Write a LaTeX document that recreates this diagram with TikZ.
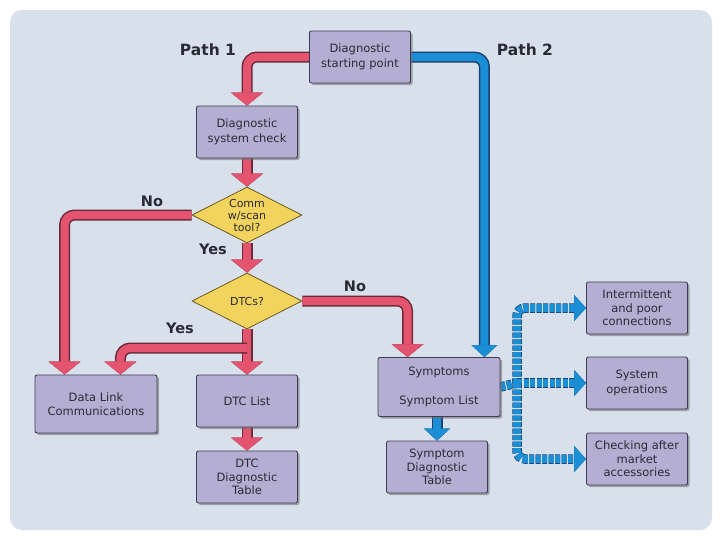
\documentclass[tikz,border=0pt]{standalone}
\usepackage{fontspec}
\setmainfont{DejaVu Sans}
\usetikzlibrary{arrows.meta,shapes.geometric,shadows}
\definecolor{bgc}{HTML}{D8E1EB}
\definecolor{boxfill}{HTML}{B5AED3}
\definecolor{boxline}{HTML}{3E3B55}
\definecolor{diafill}{HTML}{F1D35E}
\definecolor{dialine}{HTML}{6B5A20}
\definecolor{pipered}{HTML}{E5546F}
\definecolor{reddark}{HTML}{6B2A3A}
\definecolor{pipeblue}{HTML}{1A8FD6}
\definecolor{bluedark}{HTML}{1B3F6E}
\definecolor{txt}{HTML}{2A2A35}
\pgfdeclarelayer{background}
\pgfdeclarelayer{pipes}
\pgfsetlayers{background,pipes,main}
\begin{document}
\begin{tikzpicture}[x=1pt,y=-1pt,
  box/.style={draw=boxline, fill=boxfill, line width=0.9pt, rounded corners=2pt,
    minimum width=101pt, minimum height=52pt, align=center, text=txt, inner sep=2pt,
    font=\fontsize{11.5}{14.5}\selectfont,
    drop shadow={shadow xshift=2pt, shadow yshift=-2pt, fill=black!55, opacity=0.6}},
  dia/.style={diamond, draw=dialine, fill=diafill, line width=0.8pt, aspect=2,
    minimum width=110pt, minimum height=56pt, inner sep=0pt, align=center, text=txt,
    font=\fontsize{11}{12}\selectfont},
  lbl/.style={font=\bfseries\fontsize{15.5}{18}\selectfont, text=txt},
  yn/.style={font=\bfseries\fontsize{14.5}{17}\selectfont, text=txt},
  redpipe/.style={draw=pipered, line width=8pt, rounded corners=10pt,
    preaction={draw=reddark, line width=11pt}},
  bluepipe/.style={draw=pipeblue, line width=8pt, rounded corners=10pt,
    preaction={draw=bluedark, line width=11pt}},
  dotpipe/.style={draw=pipeblue, line width=8pt, rounded corners=8pt,
    dash pattern=on 5pt off 1.5pt,
    preaction={draw=bluedark, line width=9.5pt, dash pattern=on 5pt off 1.5pt}},
  rtip/.style={-{Triangle[width=32pt,length=13pt,line width=0.5pt]}},
  btip/.style={-{Triangle[width=26pt,length=12pt,line width=0.5pt]}},
]
\useasboundingbox (0,0) rectangle (721,536);
\begin{pgfonlayer}{background}
\fill[white] (0,0) rectangle (721,536);
\fill[bgc, rounded corners=12pt] (10,10) rectangle (712,530);
\end{pgfonlayer}

% nodes
\node[box] (start) at (360,57) {Diagnostic\\starting point};
\node[box] (sys) at (247,132) {Diagnostic\\system check};
\node[dia] (comm) at (247,215) {Comm\\w/scan\\tool?};
\node[dia] (dtcs) at (247,301) {DTCs?};
\node[box, minimum width=122pt, minimum height=58pt] (dl) at (96,404) {Data Link\\Communications};
\node[box] (dtclist) at (247,401) {DTC List};
\node[box, font=\fontsize{11.5}{13.5}\selectfont] (dtctab) at (247,477) {DTC\\Diagnostic\\Table};
\node[box, minimum width=122pt, minimum height=59pt] (sym) at (439,387) {Symptoms\\[14pt]Symptom List};
\node[box, font=\fontsize{11.5}{13.5}\selectfont] (symtab) at (437,467) {Symptom\\Diagnostic\\Table};
\node[box, font=\fontsize{11.5}{13.5}\selectfont] (inter) at (637,308) {Intermittent\\and poor\\connections};
\node[box] (sysop) at (637,383) {System\\operations};
\node[box, font=\fontsize{11.5}{13.5}\selectfont] (check) at (637,459) {Checking after\\market\\accessories};

% labels
\node[lbl] (p1) at (208,50) {Path 1};
\node[lbl] (p2) at (525,50) {Path 2};
\node[yn] (no1) at (152,201) {No};
\node[yn] (yes1) at (213,249) {Yes};
\node[yn] (no2) at (355,286) {No};
\node[yn] (yes2) at (180,328) {Yes};

\coordinate (br) at (247,348);
\coordinate (smid) at (517,383);

\begin{pgfonlayer}{pipes}
% path 1
\draw[redpipe, rtip] (start.west) -| (sys.north);
\draw[redpipe, rtip] (sys.south) -- (comm.north);
\draw[redpipe, rtip] (comm.west) -| ([xshift=30pt]dl.north west);
\draw[redpipe, rtip] (comm.south) -- (dtcs.north);
\draw[redpipe, rtip] (dtcs.east) -| ([xshift=30pt]sym.north west);
\draw[redpipe, rtip] (dtcs.south) -- (dtclist.north);
\draw[redpipe, rtip] (br) -| ([xshift=-37pt]dl.north east);
\draw[redpipe, rtip] (dtclist.south) -- (dtctab.north);
% path 2
\draw[bluepipe, btip] (start.east) -| ([xshift=-16pt]sym.north east);
\draw[bluepipe, btip] (sym.south -| symtab.north) -- (symtab.north);
\draw[dotpipe] (sym.east) -- (smid);
\draw[dotpipe, btip] (smid) |- (inter.west);
\draw[dotpipe, btip] (smid) -- (sysop.west);
\draw[dotpipe, btip] (smid) |- (check.west);
\end{pgfonlayer}
\end{tikzpicture}
\end{document}
